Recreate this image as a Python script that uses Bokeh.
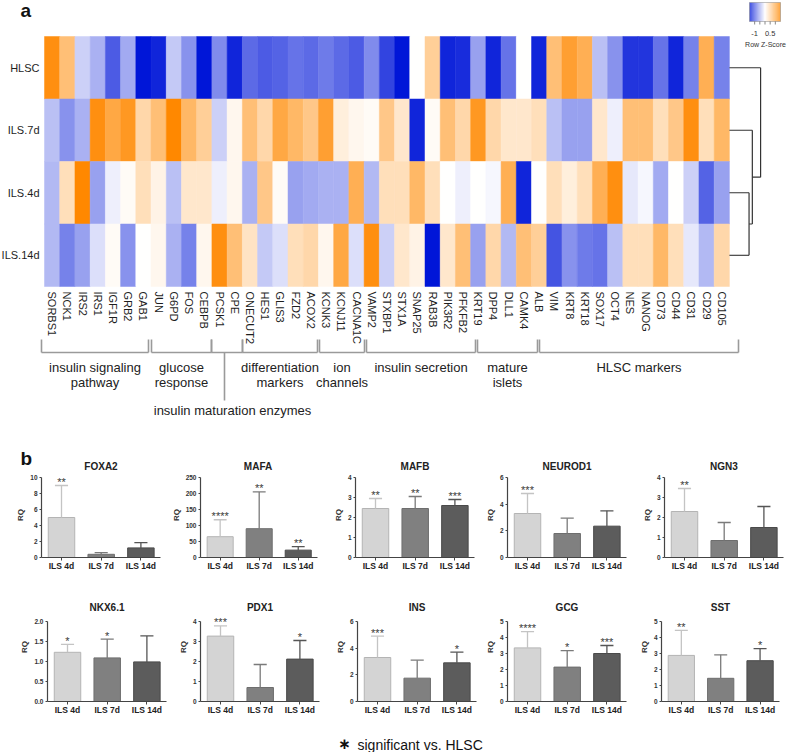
import math
import numpy as np
from bokeh.plotting import figure
from bokeh.models import (Range1d, ColumnDataSource, LinearColorMapper,
                          FixedTicker, NumeralTickFormatter)
from bokeh.layouts import column, row
from bokeh.transform import transform
from bokeh.embed import file_html
from bokeh.resources import INLINE
from bokeh.core.properties import value

FONT = "Liberation Sans"

# ------------------------------------------------------------------ data
genes = ["SORBS1", "NCK1", "IRS2", "IRS1", "IGF1R", "GRB2", "GAB1", "JUN", "G6PD",
         "FOS", "CEBPB", "PCSK1", "CPE", "ONECUT2", "HES1", "GLIS3", "FZD2", "ACOX2",
         "KCNK3", "KCNJ11", "CACNA1C", "VAMP2", "STXBP1", "STX1A", "SNAP25", "RAB3B",
         "PIK3R2", "PFKFB2", "KRT19", "DPP4", "DLL1", "CAMK4", "ALB", "VIM", "KRT8",
         "KRT18", "SOX17", "OCT4", "NES", "NANOG", "CD73", "CD44", "CD31", "CD29", "CD105"]
samples = ["HLSC", "ILS.7d", "ILS.4d", "ILS.14d"]

z_hlsc = [1.4, 0.8, -0.3, -0.5, -1.05, -0.55, -1.5, -1.4, -0.35, -0.7, -1.5, -0.75,
          -1.4, -0.95, -1.05, -1.0, -0.9, -0.95, -0.85, -0.95, -1.05, -0.75, -1.2,
          -1.5, 0.0, 0.6, -1.4, -1.35, -0.6, -1.4, -0.9, 0.0, -1.4, 0.8, 1.2, 1.0,
          -0.4, -0.7, -1.3, -1.3, -0.9, -1.4, -0.8, 1.0, -0.8]
z_7d = [-0.4, -0.7, -0.5, 1.4, 1.1, 1.3, 0.5, 0.8, 1.5, 0.9, 0.6, -0.3, 0.1, 0.8,
        0.5, 1.1, 0.9, 0.7, 1.2, 0.2, 0.1, 0.05, 0.7, 0.3, -1.4, 0.05, 0.8, 0.5, 1.3,
        0.5, 0.3, 0.3, 0.4, -0.4, -0.6, -0.6, 0.3, -0.1, 0.8, 0.8, 0.4, 0.7, 1.4,
        0.4, 0.9]
z_4d = [-0.45, 0.4, 1.5, -0.6, -0.1, 0.05, 0.4, 0.15, -0.4, 0.3, 0.3, -0.1, 0.1,
        -0.5, 0.7, 0.05, -0.6, -0.55, -0.5, -0.5, 1.0, -0.45, 0.4, 0.4, 0.9, 0.4,
        0.0, -0.1, 0.0, -0.05, 1.0, -1.4, 0.0, 0.4, 0.2, 0.4, 1.0, 1.4, -0.15, -0.05,
        -0.55, 0.0, -0.3, -1.0, -0.6]
z_14d = [-0.45, -0.8, -0.6, -0.2, 0.05, -0.7, 0.0, 0.1, -0.5, -0.8, 0.1, 1.4, 0.8,
         0.35, -0.35, -0.2, 0.4, 0.5, 0.1, 1.1, -0.2, 1.4, -0.3, 0.3, 0.15, -1.5, 0.3,
         0.8, -0.6, 0.5, -0.45, 0.8, 0.6, -1.1, -0.7, -0.85, -0.9, -0.4, 0.4, 0.4,
         0.9, 0.4, -0.15, -0.45, 0.5]

# hierarchical clustering merge heights: (ILS.4d, ILS.14d), (ILS.7d, .), (HLSC, .)
merge_heights = [0.63, 0.735, 1.0]

key_ticks = [-1, -0.5, 0, 0.5, 1]
key_labels = {-1: "-1", 0.5: "0.5"}

group_lines = [["insulin signaling", "pathway"], ["glucose", "response"],
               ["insulin maturation enzymes"], ["differentiation", "markers"],
               ["ion", "channels"], ["insulin secretion"], ["mature", "islets"],
               ["HLSC markers"]]

bar_genes = ["FOXA2", "MAFA", "MAFB", "NEUROD1", "NGN3",
             "NKX6.1", "PDX1", "INS", "GCG", "SST"]
conditions = ["ILS 4d", "ILS 7d", "ILS 14d"]
rq_4d = [5.0, 65, 2.45, 3.3, 2.3, 1.23, 3.27, 3.3, 3.35, 2.88]
rq_7d = [0.4, 90, 2.45, 1.8, 0.85, 1.09, 0.7, 1.75, 2.15, 1.45]
rq_14d = [1.2, 23, 2.6, 2.35, 1.5, 0.99, 2.12, 2.9, 3.0, 2.55]
sd_4d = [4.0, 53, 0.5, 1.5, 1.15, 0.2, 0.51, 1.6, 1.02, 1.57]
sd_7d = [0.2, 115, 0.6, 1.15, 0.9, 0.47, 1.15, 1.35, 1.03, 1.47]
sd_14d = [0.65, 11, 0.3, 1.15, 1.05, 0.65, 0.93, 0.8, 0.5, 0.75]
stars_4d = ["**", "****", "**", "***", "**", "*", "***", "***", "****", "**"]
stars_7d = ["", "**", "**", "", "", "*", "", "", "*", ""]
stars_14d = ["", "**", "***", "", "", "", "*", "*", "***", "*"]
y_max = [10, 250, 4, 6, 4, 2.0, 4, 6, 5, 5]
y_step = [2, 50, 1, 2, 1, 0.5, 1, 2, 1, 1]

footnote_mark = "\u2217"
footnote = "significant vs. HLSC"

# ------------------------------------------------------------------ palette
def _lerp(a, b, t):
    return tuple(int(round(a[k] + (b[k] - a[k]) * t)) for k in range(3))

BLUE, WHITE, ORANGE = (0, 22, 216), (255, 255, 255), (255, 136, 0)
palette = []
for i in range(256):
    t = i / 255
    c = _lerp(BLUE, WHITE, t / 0.5) if t < 0.5 else _lerp(WHITE, ORANGE, (t - 0.5) / 0.5)
    palette.append("#%02x%02x%02x" % c)
mapper = LinearColorMapper(palette=palette, low=-1.5, high=1.5)

# ------------------------------------------------------------------ layout constants
PAGE_W = 787
TOP_H = 472
ROW_TOP = [TOP_H, 592]
ZERO = [557, 701]
ROW_BOTTOM = [592, 720]
FOOT_BOTTOM = 752
AXIS_X = [[41, 198, 355, 507, 664], [47, 200, 357, 507, 660]]
BOUNDS = [0, 168, 325, 482, 636, PAGE_W]
TITLE_Y = [466, 607]
PITCH, OFF1, FRAME_W, SPAN = 39.7, 20, 119, 80
STAR_GAP = 3.5   # px between error cap and star anchor


def frame_right(rr, cc):
    return min(AXIS_X[rr][cc] + FRAME_W, BOUNDS[cc + 1])


# ------------------------------------------------------------------ panel a
CW, RH = 15.22, 62.5      # px per column / per row
HX, HY = 44, 36           # page position of heatmap top-left


def ux(px):
    return (px - HX) / CW


def uy(py):
    return (py - HY) / RH


top = figure(width=PAGE_W, height=TOP_H, x_range=Range1d(ux(0), ux(PAGE_W)),
             y_range=Range1d(uy(TOP_H), uy(0)), toolbar_location=None,
             output_backend="svg", x_axis_location=None, y_axis_location=None,
             min_border_left=0, min_border_right=0, min_border_top=0,
             min_border_bottom=0)
top.grid.visible = False
top.outline_line_color = None

xs, ys, vals = [], [], []
for r, zrow in enumerate([z_hlsc, z_7d, z_4d, z_14d]):
    for c, v in enumerate(zrow):
        xs.append(c + 0.5)
        ys.append(r + 0.5)
        vals.append(v)
hsrc = ColumnDataSource(dict(x=xs, y=ys, z=vals))
top.rect("x", "y", width=1, height=1, source=hsrc,
         fill_color=transform("z", mapper), line_color=transform("z", mapper),
         line_width=0.5)

# gene labels
top.text(x=[i + 0.5 for i in range(len(genes))], y=[uy(291)] * len(genes),
         text=genes, angle=-math.pi / 2, text_align="left", text_baseline="middle",
         text_font=value(FONT), text_font_size="11px", text_color="#1e1e1e")
# sample labels
top.text(x=[ux(39)] * len(samples), y=[r + 0.5 for r in range(len(samples))],
         text=samples, text_align="right", text_baseline="middle",
         text_font=value(FONT), text_font_size="11px", text_color="#1e1e1e")

# dendrogram
K = (760.7 - 729.5) / CW
edge = len(genes)
ly = {s: i + 0.5 for i, s in enumerate(samples)}
h1, h2, h3 = merge_heights
X1, X2, X3 = edge + K * h1, edge + K * h2, edge + K * h3
n1 = (ly["ILS.4d"] + ly["ILS.14d"]) / 2
n2 = (ly["ILS.7d"] + n1) / 2
segs = [
    (edge, ly["ILS.4d"], X1, ly["ILS.4d"]), (edge, ly["ILS.14d"], X1, ly["ILS.14d"]),
    (X1, ly["ILS.4d"], X1, ly["ILS.14d"]),
    (edge, ly["ILS.7d"], X2, ly["ILS.7d"]), (X1, n1, X2, n1), (X2, ly["ILS.7d"], X2, n1),
    (edge, ly["HLSC"], X3, ly["HLSC"]), (X2, n2, X3, n2), (X3, ly["HLSC"], X3, n2),
]
top.segment(x0=[s[0] for s in segs], y0=[s[1] for s in segs],
            x1=[s[2] for s in segs], y1=[s[3] for s in segs],
            line_color="#333333", line_width=1.2)

# colour key
kx0, kx1, ky0, ky1 = ux(749), ux(780), uy(2), uy(21)
nk = 64
kv = list(np.linspace(-1.5, 1.5, nk))
kw = (kx1 - kx0) / nk
ksrc = ColumnDataSource(dict(l=[kx0 + i * kw for i in range(nk)],
                             r=[kx0 + (i + 1) * kw for i in range(nk)], v=kv))
top.quad(left="l", right="r", top=ky0, bottom=ky1, source=ksrc,
         fill_color=transform("v", mapper), line_color=None)
top.quad(left=[kx0], right=[kx1], top=[ky0], bottom=[ky1], fill_color=None,
         line_color="#999999", line_width=0.6)


def kxv(v):
    return kx0 + (v + 1.5) / 3.0 * (kx1 - kx0)


top.segment(x0=[kxv(v) for v in key_ticks], x1=[kxv(v) for v in key_ticks],
            y0=[ky1] * len(key_ticks), y1=[uy(24)] * len(key_ticks),
            line_color="#555555", line_width=0.7)
top.text(x=[kxv(v) for v in key_labels], y=[uy(33)] * len(key_labels),
         text=list(key_labels.values()), text_align="center", text_baseline="middle",
         text_font=value(FONT), text_font_size="7.5px", text_color="#333333")
top.text(x=[ux(765)], y=[uy(44)], text=["Row Z-Score"], text_align="center",
         text_baseline="middle", text_font=value(FONT), text_font_size="7px",
         text_color="#333333")

# group brackets
bracket_px = [(41, 148), (151, 211), (211, 242), (242, 317), (319, 364), (366, 475),
              (477, 537), (539, 738)]
bx0, bx1, by0, by1 = [], [], [], []
for a, b in bracket_px:
    bx0 += [ux(a), ux(a), ux(b)]
    bx1 += [ux(b), ux(a), ux(b)]
    by0 += [uy(352), uy(339), uy(339)]
    by1 += [uy(352), uy(352), uy(352)]
bx0.append(ux(224)); bx1.append(ux(224)); by0.append(uy(352)); by1.append(uy(400))
top.segment(x0=bx0, y0=by0, x1=bx1, y1=by1, line_color="#9a9a9a", line_width=1.6)

tx, ty, tt = [], [], []
for (a, b), lines in zip(bracket_px, group_lines):
    if len(lines) == 1 and lines[0].startswith("insulin maturation"):
        tx.append(ux(232)); ty.append(uy(410)); tt.append(lines[0])
        continue
    for j, s in enumerate(lines):
        tx.append(ux((a + b) / 2)); ty.append(uy(367 + 15 * j)); tt.append(s)
top.text(x=tx, y=ty, text=tt, text_align="center", text_baseline="middle",
         text_font=value(FONT), text_font_size="13px", text_color="#222222")

# panel letters
top.text(x=[ux(20), ux(20)], y=[uy(10), uy(458)], text=["a", "b"], text_align="left",
         text_baseline="middle", text_font=value(FONT), text_font_size="19px",
         text_font_style="bold", text_color="#111111")

# titles of the first row of bar charts (sit above the bar-chart figures)
top.text(x=[ux((AXIS_X[0][c] + frame_right(0, c)) / 2) for c in range(5)],
         y=[uy(TITLE_Y[0])] * 5, text=bar_genes[:5], text_align="center",
         text_baseline="middle", text_font=value(FONT), text_font_size="10px",
         text_font_style="bold", text_color="#222222")

# ------------------------------------------------------------------ panel b
fills = ["#d4d4d4", "#808080", "#5c5c5c"]
lines_c = ["#b4b4b4", "#6e6e6e", "#4a4a4a"]
errc = ["#c4c4c4", "#7a7a7a", "#555555"]

rows = []
for rr in range(2):
    figs = []
    for cc in range(5):
        k = rr * 5 + cc
        left, right = BOUNDS[cc], BOUNDS[cc + 1]
        fl = AXIS_X[rr][cc]
        fr = frame_right(rr, cc)
        xs0 = 1 - OFF1 / PITCH
        xe0 = xs0 + (fr - fl) / PITCH
        fh = ZERO[rr] - ROW_TOP[rr]
        ym = y_max[k]
        upp = ym / SPAN   # data units per pixel
        yend = fh * upp
        p = figure(width=right - left, height=ROW_BOTTOM[rr] - ROW_TOP[rr],
                   x_range=Range1d(xs0, xe0), y_range=Range1d(0, yend),
                   toolbar_location=None, output_backend="svg",
                   min_border_left=fl - left, min_border_right=right - fr,
                   min_border_top=0, min_border_bottom=ROW_BOTTOM[rr] - ZERO[rr])
        p.grid.visible = False
        p.outline_line_color = None
        tops = [rq_4d[k], rq_7d[k], rq_14d[k]]
        sds = [sd_4d[k], sd_7d[k], sd_14d[k]]
        st = [stars_4d[k], stars_7d[k], stars_14d[k]]
        xb = [1, 2, 3]
        p.vbar(x=xb, top=tops, bottom=0, width=0.667, fill_color=fills,
               line_color=lines_c, line_width=1)
        et = [t + s for t, s in zip(tops, sds)]
        p.segment(x0=xb, x1=xb, y0=tops, y1=et, line_color=errc, line_width=1.3)
        p.segment(x0=[x - 0.165 for x in xb], x1=[x + 0.165 for x in xb], y0=et,
                  y1=et, line_color=errc, line_width=1.3)
        p.text(x=xb, y=[e + STAR_GAP * upp for e in et], text=st, text_align="center",
               text_baseline="middle", text_font=value(FONT), text_font_size="11px",
               text_color="#3a3a3a")
        if rr == 1:
            p.text(x=[(xs0 + xe0) / 2], y=[(ZERO[rr] - TITLE_Y[rr]) * upp],
                   text=[bar_genes[k]], text_align="center", text_baseline="middle",
                   text_font=value(FONT), text_font_size="10px",
                   text_font_style="bold", text_color="#222222")
        # axes
        p.yaxis.ticker = FixedTicker(ticks=list(np.arange(0, ym + 1e-9, y_step[k])))
        p.yaxis.bounds = (0, ym)
        p.yaxis.formatter = NumeralTickFormatter(format="0.0" if y_step[k] < 1 else "0")
        p.yaxis.axis_label = "RQ"
        p.yaxis.axis_label_text_font = FONT
        p.yaxis.axis_label_text_font_size = "8px"
        p.yaxis.axis_label_text_font_style = "bold"
        p.yaxis.axis_label_standoff = 2
        p.yaxis.axis_label_text_color = "#333333"
        p.yaxis.major_label_text_font = FONT
        p.yaxis.major_label_text_font_size = "6.5px"
        p.yaxis.major_label_text_font_style = "bold"
        p.yaxis.major_label_text_color = "#333333"
        p.yaxis.major_label_standoff = 2
        p.yaxis.major_tick_out = 2
        p.yaxis.major_tick_in = 0
        p.yaxis.minor_tick_out = 0
        p.yaxis.minor_tick_in = 0
        p.xaxis.ticker = FixedTicker(ticks=xb)
        p.xaxis.major_label_overrides = {1: conditions[0], 2: conditions[1],
                                         3: conditions[2]}
        p.xaxis.major_label_text_font = FONT
        p.xaxis.major_label_text_font_size = "8.5px"
        p.xaxis.major_label_text_font_style = "bold"
        p.xaxis.major_label_text_color = "#222222"
        p.xaxis.major_label_standoff = 0
        p.xaxis.major_tick_out = 3
        p.xaxis.major_tick_in = 0
        p.xaxis.minor_tick_out = 0
        p.xaxis.minor_tick_in = 0
        for ax in (p.xaxis, p.yaxis):
            ax.axis_line_color = "#444444"
            ax.axis_line_width = 1.2
            ax.major_tick_line_color = "#444444"
        figs.append(p)
    rows.append(row(*figs))

# ------------------------------------------------------------------ footnote
foot = figure(width=PAGE_W, height=FOOT_BOTTOM - ROW_BOTTOM[1],
              x_range=Range1d(0, PAGE_W), y_range=Range1d(FOOT_BOTTOM, ROW_BOTTOM[1]),
              toolbar_location=None, output_backend="svg", x_axis_location=None,
              y_axis_location=None, min_border_left=0, min_border_right=0,
              min_border_top=0, min_border_bottom=0)
foot.grid.visible = False
foot.outline_line_color = None
foot.text(x=[344], y=[743], text=[footnote_mark], text_align="center",
          text_baseline="middle", text_font=value("DejaVu Sans"),
          text_font_size="15px", text_font_style="bold", text_color="#111111")
foot.text(x=[357], y=[744], text=[footnote], text_align="left",
          text_baseline="middle", text_font=value(FONT), text_font_size="14px",
          text_color="#111111")

layout = column(top, rows[0], rows[1], foot)
open("out.html", "w").write(file_html(layout, INLINE))
